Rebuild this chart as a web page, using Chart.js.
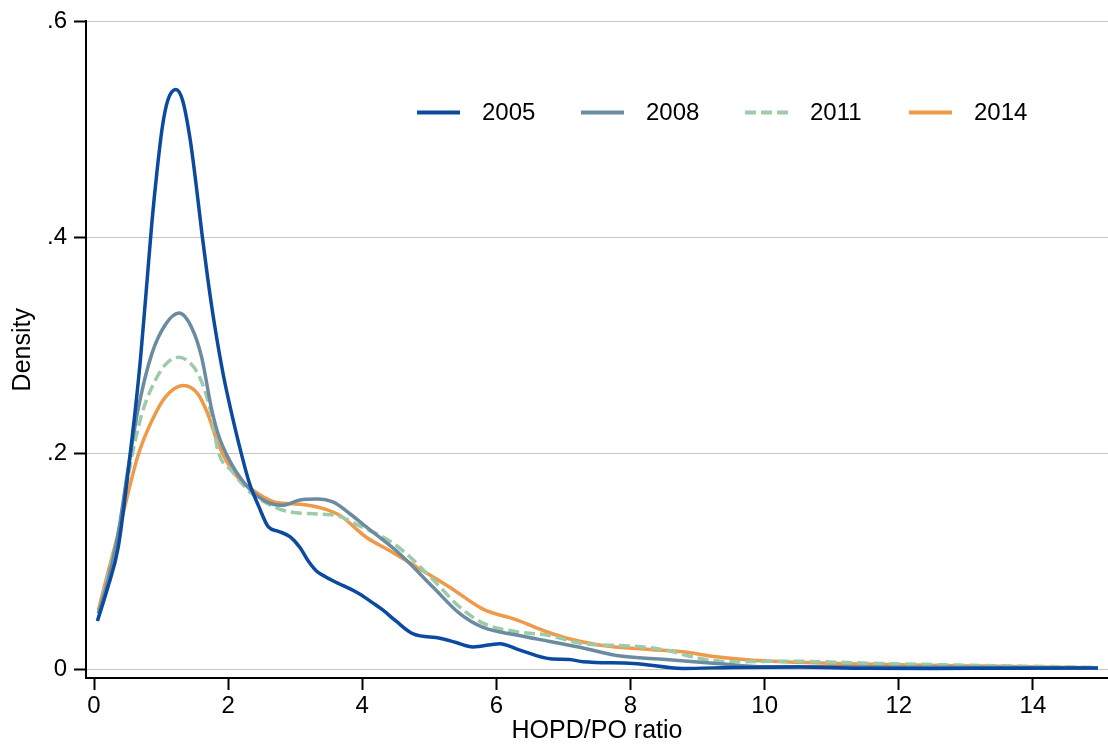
<!DOCTYPE html>
<html>
<head>
<meta charset="utf-8">
<title>HOPD/PO ratio density</title>
<script src="https://cdn.jsdelivr.net/npm/chart.js@4/dist/chart.umd.min.js"></script>
<style>
  html, body { margin: 0; padding: 0; background: #ffffff; }
  #wrap { width: 1108px; height: 750px; }
</style>
</head>
<body>
<div id="wrap"><canvas id="c" width="1108" height="750"></canvas></div>
<script>
// Kernel density estimates of the HOPD/PO ratio, by year
const years = ['2005', '2008', '2011', '2014'];

const x2005 = [0.05, 0.2, 0.36, 0.51, 0.6, 0.69, 0.78, 0.86, 0.94, 1.02, 1.1, 1.22, 1.32, 1.43, 1.52, 1.61, 1.7, 1.8, 1.93, 2.03, 2.2, 2.32, 2.45, 2.6, 2.75, 2.92, 3.07, 3.2, 3.32, 3.45, 3.57, 3.96, 4.15, 4.31, 4.5, 4.76, 5.16, 5.4, 5.65, 6.05, 6.35, 6.8, 7.09, 7.29, 8.04, 8.78, 9.53, 10.5, 11.5, 12.5, 13.5, 14.97];
const d2005 = [0.045, 0.075, 0.113, 0.184, 0.232, 0.286, 0.352, 0.412, 0.462, 0.503, 0.527, 0.537, 0.527, 0.492, 0.450, 0.403, 0.360, 0.318, 0.272, 0.243, 0.199, 0.172, 0.152, 0.132, 0.128, 0.123, 0.113, 0.100, 0.091, 0.086, 0.082, 0.070, 0.062, 0.055, 0.045, 0.033, 0.029, 0.025, 0.021, 0.024, 0.018, 0.010, 0.0094, 0.0072, 0.0057, 0.0011, 0.002, 0.0023, 0.0012, 0.0010, 0.0012, 0.0014];

const x2008 = [0.065, 0.21, 0.36, 0.51, 0.66, 0.86, 1.06, 1.27, 1.46, 1.605, 1.75, 1.85, 2.0, 2.25, 2.55, 2.8, 3.07, 3.32, 3.57, 3.82, 4.06, 4.56, 5.06, 5.45, 5.8, 6.3, 6.8, 7.29, 7.79, 8.53, 9.28, 10.0, 11, 12, 13, 14, 14.97];
const d2008 = [0.052, 0.083, 0.126, 0.187, 0.242, 0.292, 0.319, 0.330, 0.316, 0.289, 0.242, 0.218, 0.196, 0.172, 0.156, 0.152, 0.157, 0.158, 0.155, 0.144, 0.132, 0.107, 0.076, 0.052, 0.039, 0.032, 0.026, 0.020, 0.013, 0.0094, 0.0057, 0.0026, 0.0025, 0.0022, 0.0020, 0.0018, 0.0015];

const x2011 = [0.065, 0.2, 0.36, 0.56, 0.71, 0.86, 1.06, 1.26, 1.46, 1.6, 1.75, 1.85, 2.05, 2.35, 2.75, 2.92, 3.32, 3.62, 3.96, 4.41, 4.66, 5.06, 5.45, 5.8, 6.3, 6.75, 7.29, 8.04, 8.53, 9.03, 9.53, 10.27, 11.7, 13, 14, 14.97];
const d2011 = [0.052, 0.085, 0.126, 0.196, 0.236, 0.261, 0.282, 0.289, 0.282, 0.267, 0.236, 0.202, 0.184, 0.163, 0.149, 0.146, 0.144, 0.1425, 0.133, 0.119, 0.107, 0.083, 0.058, 0.043, 0.035, 0.032, 0.024, 0.0217, 0.018, 0.0103, 0.0072, 0.0078, 0.0057, 0.004, 0.003, 0.002];

const x2014 = [0.065, 0.2, 0.36, 0.66, 0.86, 1.06, 1.33, 1.55, 1.7, 1.85, 2.1, 2.35, 2.7, 3.07, 3.42, 3.67, 4.06, 4.41, 4.81, 5.31, 5.8, 6.3, 6.75, 7.05, 7.55, 8.29, 8.78, 9.28, 9.78, 10.28, 11.2, 12.2, 13.2, 14.9];
const d2014 = [0.055, 0.088, 0.126, 0.199, 0.230, 0.252, 0.263, 0.255, 0.236, 0.209, 0.181, 0.167, 0.155, 0.153, 0.149, 0.1425, 0.1225, 0.110, 0.095, 0.076, 0.056, 0.046, 0.035, 0.029, 0.0226, 0.0186, 0.0164, 0.0118, 0.0088, 0.0072, 0.0055, 0.0042, 0.0032, 0.0017];

const xTicks = [0, 2, 4, 6, 8, 10, 12, 14];
const yTicks = [0, 0.2, 0.4, 0.6];
const yTickLabels = ['0', '.2', '.4', '.6'];

const colors = ['#0b4a9f', '#6b8ba0', '#9dcbaa', '#ee9a48'];
const dashes = [[], [], [11, 5], []];
const xs = [x2005, x2008, x2011, x2014];
const ds = [d2005, d2008, d2011, d2014];

const FONT = 'Liberation Sans, Arial, Helvetica, sans-serif';

// Legend row drawn inside the plotting area
const insideLegend = {
  id: 'insideLegend',
  afterDatasetsDraw(chart) {
    const { ctx, chartArea } = chart;
    const y = chartArea.top + 91;
    const startX = chartArea.left + 331;
    const step = 164;
    const lineLen = 43;
    ctx.save();
    chart.data.datasets.forEach((ds, i) => {
      const x0 = startX + i * step;
      ctx.beginPath();
      ctx.strokeStyle = ds.borderColor;
      ctx.lineWidth = 4;
      ctx.setLineDash(ds.borderDash || []);
      ctx.moveTo(x0, y);
      ctx.lineTo(x0 + lineLen, y);
      ctx.stroke();
      ctx.setLineDash([]);
      ctx.fillStyle = '#000000';
      ctx.font = '24px ' + FONT;
      ctx.textBaseline = 'middle';
      ctx.textAlign = 'left';
      ctx.fillText(ds.label, x0 + lineLen + 22, y + 1);
    });
    ctx.restore();
  }
};

const datasets = years.map((yr, i) => ({
  label: yr,
  data: xs[i].map((x, j) => ({ x: x, y: ds[i][j] })),
  borderColor: colors[i],
  borderWidth: 3.5,
  borderDash: dashes[i],
  pointRadius: 0,
  fill: false,
  cubicInterpolationMode: 'monotone'
}));

new Chart(document.getElementById('c'), {
  type: 'line',
  data: { datasets: datasets },
  plugins: [insideLegend],
  options: {
    responsive: false,
    animation: false,
    layout: { padding: { top: 19, right: 0, bottom: 0, left: 0 } },
    plugins: { legend: { display: false }, tooltip: { enabled: false } },
    scales: {
      x: {
        type: 'linear',
        min: -0.12,
        max: 15.12,
        afterBuildTicks: s => { s.ticks = xTicks.map(v => ({ value: v })); },
        afterFit: s => { s.height = 72; },
        grid: { drawOnChartArea: false, drawTicks: true, tickLength: 12, tickColor: '#000000', tickWidth: 2 },
        border: { display: true, color: '#000000', width: 2 },
        ticks: { color: '#000000', font: { family: FONT, size: 24 }, padding: 2, maxRotation: 0, autoSkip: false },
        title: { display: true, text: 'HOPD/PO ratio', color: '#000000', font: { family: FONT, size: 25 }, padding: { top: 0, bottom: 4 } }
      },
      y: {
        type: 'linear',
        min: -0.0078,
        max: 0.6,
        afterBuildTicks: s => { s.ticks = yTicks.map(v => ({ value: v })); },
        afterFit: s => { s.width = 86; },
        grid: { color: '#c6c6c6', lineWidth: 1, drawTicks: true, tickLength: 12, tickColor: '#000000', tickWidth: 2 },
        border: { display: true, color: '#000000', width: 2 },
        ticks: {
          color: '#000000', font: { family: FONT, size: 24 }, padding: 7,
          callback: (v) => { const k = yTicks.indexOf(v); return k >= 0 ? yTickLabels[k] : ''; }
        },
        title: { display: true, text: 'Density', color: '#000000', font: { family: FONT, size: 25 }, padding: { top: 8, bottom: 0 } }
      }
    }
  }
});
</script>
</body>
</html>
